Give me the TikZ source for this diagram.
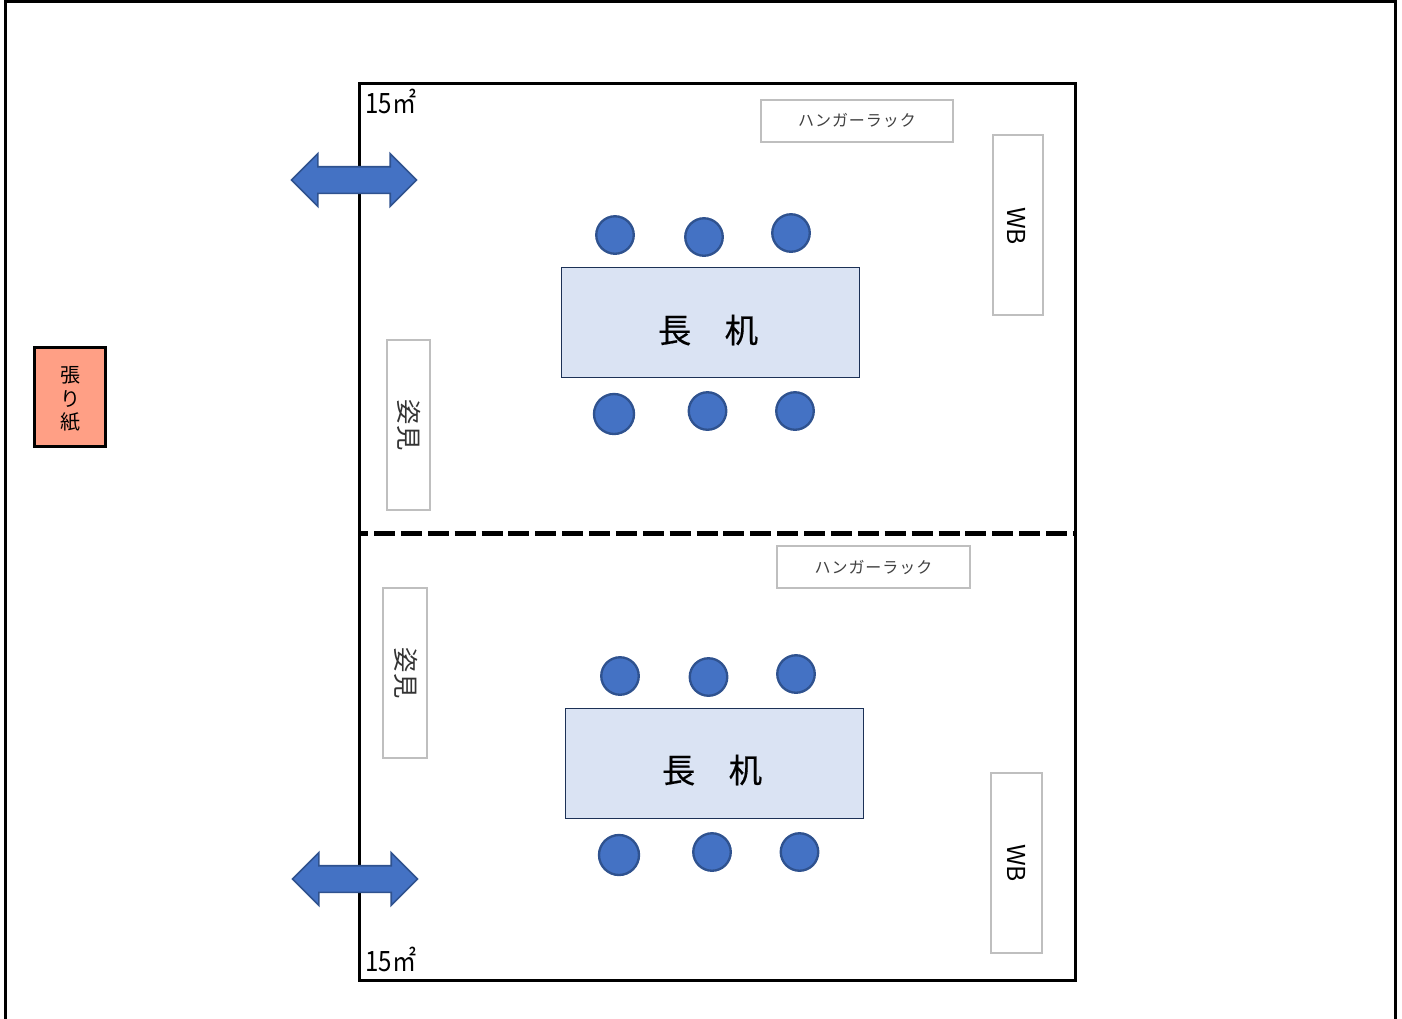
\documentclass[tikz,border=0pt]{standalone}
\usepackage{graphicx}
\usepackage{fontspec}
\setmainfont{Noto Sans CJK JP}
\newfontfamily\rackfont[LetterSpace=6]{Noto Sans CJK JP}
\newfontfamily\tablefont[FakeBold=0.4]{Noto Sans CJK JP}
\usetikzlibrary{shapes.arrows}
\newcommand*{\U}{0.75pt}
\newcommand*{\Squeeze}[1]{\scalebox{0.86}[1]{#1}}
\definecolor{chairblue}{HTML}{4472C4}
\definecolor{chairedge}{HTML}{2F528F}
\definecolor{tablefill}{HTML}{DAE3F3}
\definecolor{postfill}{HTML}{FF9F85}
\definecolor{itemedge}{HTML}{BFBFBF}

\begin{document}
\begin{tikzpicture}[x=0.75pt,y=-0.75pt]
\tikzset{
  size/.style 2 args={minimum width=#1*\U,minimum height=#2*\U},
  chair/.style={circle,draw=chairedge,fill=chairblue,line width=1.75pt,inner sep=0pt,minimum size=37.5*\U},
  bigchair/.style={chair,minimum size=40*\U},
  longtable/.style={draw=chairedge!60!black,fill=tablefill,line width=0.75pt,inner sep=0pt},
  tabletext/.style={inner sep=0pt,font=\tablefont\fontsize{25}{30}\selectfont},
  item/.style={draw=itemedge,fill=white,line width=1.5pt,inner sep=0pt},
  door/.style={double arrow,draw=chairedge,fill=chairblue,line width=1.25pt,inner xsep=0pt,inner ysep=12.5*\U,
    double arrow tip angle=90,double arrow head extend=13*\U,minimum width=51*\U,minimum height=125*\U}
}
\useasboundingbox (0,0) rectangle (1402,1018);

% outer frame and rooms
\coordinate (frameBL) at (5.5,1020);
\coordinate (frameTL) at (5.5,1);
\coordinate (frameTR) at (1395.5,1);
\coordinate (frameBR) at (1395.5,1020);
\draw[line width=2.25pt] (frameBL) -- (frameTL) -- (frameTR) -- (frameBR);

\node at (717.5,531.5) [draw,line width=2.25pt,inner sep=0pt,size={716}{897}] (room) {};

\coordinate (divL) at (361,533.3);
\coordinate (divR) at (1075,533.3);
\draw[line width=3.4pt,dash pattern=on 15.75pt off 4.41pt,dash phase=10.4pt] (divL) -- (divR);

\node at (391,101.5) [font=\fontsize{21}{25}\selectfont,inner sep=0pt] (areaA) {\Squeeze{15㎡}};
\node at (391,959) [font=\fontsize{21}{25}\selectfont,inner sep=0pt] (areaB) {\Squeeze{15㎡}};

\node at (354,180) [door] (doorA) {};
\node at (355,879) [door] (doorB) {};

\node at (70,397) [draw,line width=2pt,fill=postfill,inner sep=0pt,size={70.5}{98.5}] (poster) {};
\node at (70,399) [inner sep=0pt,align=center,font=\fontsize{15}{17.5}\selectfont] (postertext) {張\\り\\紙};

% upper room
\node at (710,322.5) [longtable,size={298}{110}] (tableA) {};
\node at (708,330) [tabletext] (tableAtext) {長\hspace{1em}机};
\node at (615,235) [chair] (chairA1) {};
\node at (704,237) [chair] (chairA2) {};
\node at (791,233) [chair] (chairA3) {};
\node at (614,414) [bigchair] (chairA4) {};
\node at (707.5,411) [chair] (chairA5) {};
\node at (795,411) [chair] (chairA6) {};

\node at (857,121) [item,size={192}{42},font=\rackfont\fontsize{12}{14}\selectfont,text=black!75] (rackA) {ハンガーラック};
\node at (1018,225) [item,size={50}{180}] (boardA) {};
\node at (1017,226) [rotate=-90,font=\fontsize{18.5}{22}\selectfont,inner sep=0pt] (boardAtext) {WB};
\node at (408.5,425) [item,size={43}{170}] (mirrorA) {};
\node at (409.5,425) [rotate=-90,font=\fontsize{19}{22}\selectfont,inner sep=0pt,text=black!80] (mirrorAtext) {姿見};

% lower room
\node at (714.5,763) [longtable,size={298}{110}] (tableB) {};
\node at (712,770) [tabletext] (tableBtext) {長\hspace{1em}机};
\node at (620,676) [chair] (chairB1) {};
\node at (708.5,677) [chair] (chairB2) {};
\node at (796,674) [chair] (chairB3) {};
\node at (619,855) [bigchair] (chairB4) {};
\node at (712,852) [chair] (chairB5) {};
\node at (799.5,852) [chair] (chairB6) {};

\node at (873.5,567) [item,size={193}{42},font=\rackfont\fontsize{12}{14}\selectfont,text=black!75] (rackB) {ハンガーラック};
\node at (1016.5,863) [item,size={51}{180}] (boardB) {};
\node at (boardB) [rotate=-90,font=\fontsize{18.5}{22}\selectfont,inner sep=0pt] (boardBtext) {WB};
\node at (405,673) [item,size={44}{170}] (mirrorB) {};
\node at (406,673) [rotate=-90,font=\fontsize{19}{22}\selectfont,inner sep=0pt,text=black!80] (mirrorBtext) {姿見};

\end{tikzpicture}
\end{document}
